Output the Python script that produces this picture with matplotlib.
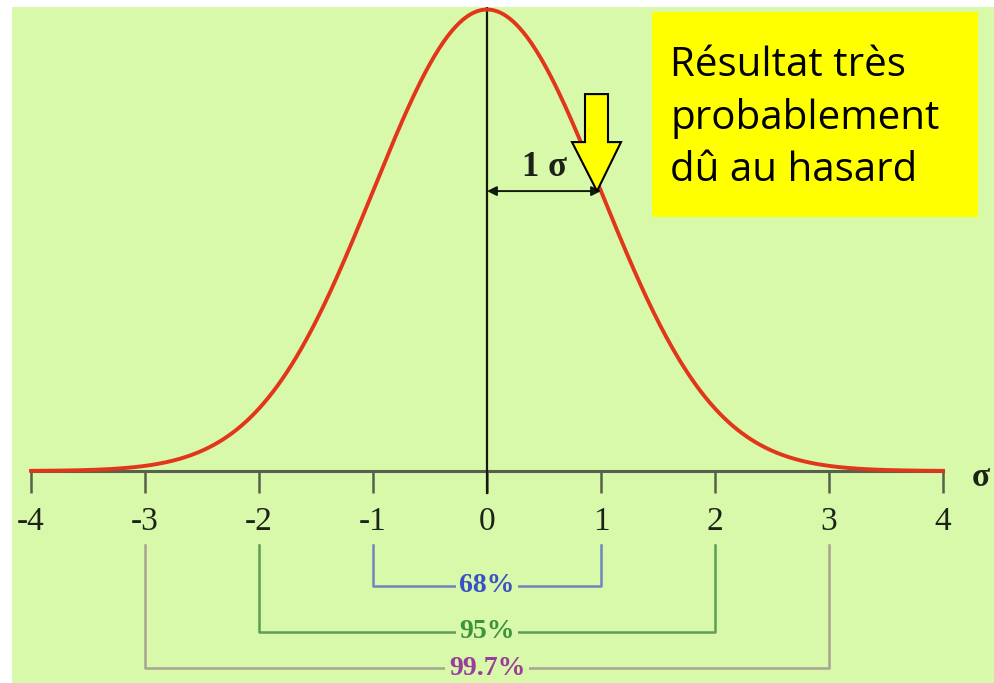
import numpy as np
import matplotlib.pyplot as plt
from matplotlib.patches import Rectangle, Polygon

# Standard normal curve, in units of sigma
mu = 0.0
sigma = 1.0
ticks = [-4, -3, -2, -1, 0, 1, 2, 3, 4]
tick_labels = ["-4", "-3", "-2", "-1", "0", "1", "2", "3", "4"]

# Coverage brackets: +/- k sigma and share of the distribution inside
levels = [1, 2, 3]
coverage = ["68%", "95%", "99.7%"]
text_colors = ["#3b50c4", "#3d923d", "#9a3c9c"]
line_colors = ["#6f86bb", "#5e9d57", "#a9a392"]
bracket_y = [-0.0994, -0.139, -0.1705]

note = "Résultat très\nprobablement\ndû au hasard"

bg = "#d7f9a9"

fig = plt.figure(figsize=(9.94, 6.83), dpi=100)
fig.patch.set_facecolor("white")
ax = fig.add_axes([12 / 994, 0, 982 / 994, 676 / 683])
ax.set_facecolor(bg)
ax.set_xlim(-475 / 114, 507 / 114)
ax.set_ylim(-212 / 1156.8, 464 / 1156.8)
for s in ax.spines.values():
    s.set_visible(False)
ax.set_xticks([])
ax.set_yticks([])

def pdf(x):
    return np.exp(-0.5 * ((x - mu) / sigma) ** 2) / (sigma * np.sqrt(2 * np.pi))

# axis, ticks and labels
ax.plot([ticks[0], ticks[-1]], [0, 0], color="#56604c", lw=2.2, zorder=2)
ax.vlines(ticks, -0.019, 0, color="#56604c", lw=1.8, zorder=2)
for t, lab in zip(ticks, tick_labels):
    ax.text(t, -0.044, lab, ha="center", va="center", fontsize=24,
            family="Liberation Serif", color="#1c2218")
ax.text(4.33, -0.006, "σ", ha="center", va="center", fontsize=24,
        family="Liberation Serif", fontweight="bold", color="#1c2218")

# vertical line at the mean
ax.plot([mu, mu], [-0.019, 0.4], color="#111a0c", lw=1.6, zorder=3)

# the bell curve
x = np.linspace(-4, 4, 600)
ax.plot(x, pdf(x), color="#e2361c", lw=2.8, zorder=4)

# one sigma span
ax.annotate("", xy=(mu, pdf(1)), xytext=(mu + sigma, pdf(1)),
            arrowprops=dict(arrowstyle="<|-|>", color="#111a0c", lw=1.4,
                            mutation_scale=14, shrinkA=0, shrinkB=0), zorder=5)
ax.text(0.5, 0.262, "1 σ", ha="center", va="center", fontsize=25,
        family="Liberation Serif", fontweight="bold", color="#1c2218")

# coverage brackets under the axis
for k, lab, tc, lc, yb in zip(levels, coverage, text_colors, line_colors, bracket_y):
    ax.plot([-k, -k, k, k], [-0.064, yb, yb, -0.064], color=lc, lw=1.8, zorder=2)
    ax.text(0, yb, lab, ha="center", va="center", fontsize=20,
            family="Liberation Serif", fontweight="bold", color=tc, zorder=3,
            bbox=dict(boxstyle="square,pad=0.12", fc=bg, ec="none"))

# yellow arrow pointing at the curve at +1 sigma
fig.canvas.draw()
tx, ty = ax.transData.transform((mu + sigma, pdf(1)))
tx -= 4
verts = [(tx - 12, ty + 97), (tx + 11, ty + 97), (tx + 11, ty + 49),
         (tx + 24, ty + 49), (tx, ty), (tx - 25, ty + 49), (tx - 12, ty + 49)]
fig.patches.append(Polygon(verts, closed=True, transform=None, fc="#ffff00",
                           ec="black", lw=1.5, zorder=6))

# note box
fig.patches.append(Rectangle((652 / 994, 1 - 217 / 683), 326 / 994, 205 / 683,
                             transform=fig.transFigure, fc="#ffff00", ec="none",
                             zorder=5))
fig.text(670 / 994, 1 - 118 / 683, note, ha="left", va="center", fontsize=29,
         family="Open Sans", color="black", linespacing=1.38, zorder=7)

fig.savefig("out.png", dpi=100)
